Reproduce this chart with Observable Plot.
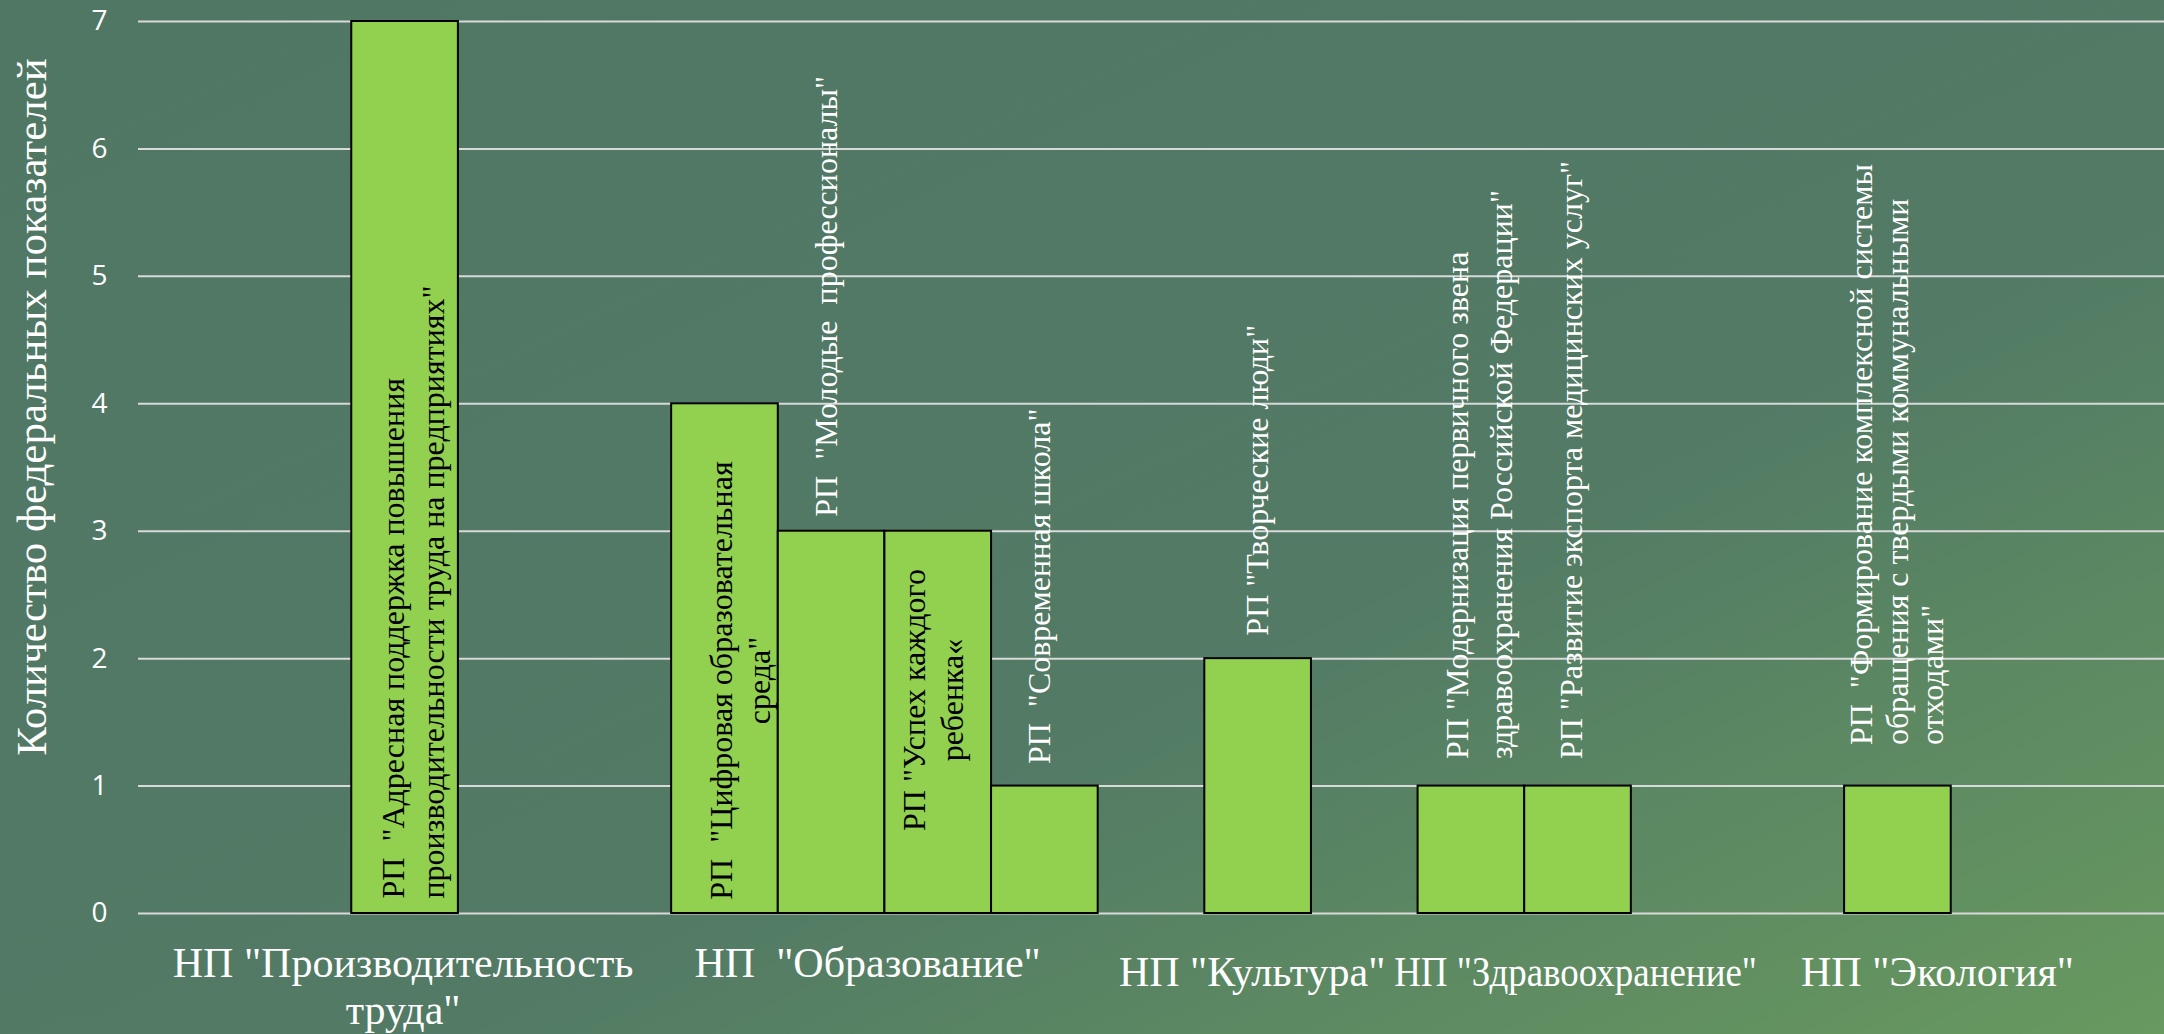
<!DOCTYPE html>
<html>
<head>
<meta charset="utf-8">
<script src="https://cdn.jsdelivr.net/npm/d3@7"></script>
<script src="https://cdn.jsdelivr.net/npm/@observablehq/plot@0.6"></script>
<style>
  html, body { margin: 0; padding: 0; width: 2164px; height: 1034px; overflow: hidden; }
  body { background: linear-gradient(to bottom right, #4f7764 0%, #527a65 60%, #68995f 100%); }
  #chart svg { display: block; background: transparent; }
  #chart svg .serif, #chart svg .serif text, #chart svg .serif tspan { font-family: "Liberation Serif", "DejaVu Serif", serif !important; }
  #chart svg .sans, #chart svg .sans text { font-family: "Open Sans", sans-serif !important; }
</style>
</head>
<body>
<div id="chart"></div>
<script>
// ---- data ----
const categories = [
  "НП \"Производительность\nтруда\"",
  "НП  \"Образование\"",
  "НП \"Культура\"",
  "НП \"Здравоохранение\"",
  "НП \"Экология\""
];
const projects = [
  "РП  \"Адресная поддержка повышения\nпроизводительности труда на предприятиях\"",
  "РП  \"Цифровая образовательная\nсреда\"",
  "РП  \"Молодые  профессионалы\"",
  "РП \"Успех каждого\nребенка«",
  "РП  \"Современная школа\"",
  "РП \"Творческие люди\"",
  "РП \"Модернизация первичного звена\nздравоохранения Российской Федерации\"",
  "РП \"Развитие экспорта медицинских услуг\"",
  "РП  \"Формирование комплексной системы\nобращения с твердыми коммунальными\nотходами\""
];
const projectCategory = [
  categories[0],
  categories[1], categories[1], categories[1], categories[1],
  categories[2],
  categories[3], categories[3],
  categories[4]
];
const values = [7, 4, 3, 3, 1, 2, 1, 1, 1];
const yTicks = [0, 1, 2, 3, 4, 5, 6, 7];
const yTitle = "Количество федеральных показателей";

// ---- layout (not data) ----
const gapsBefore = [2, 2, 1, 1, 2];
const gapsAfter = 2;
const slotOrder = [];
let g = 0;
categories.forEach((c, ci) => {
  for (let i = 0; i < gapsBefore[ci]; i++) slotOrder.push("gap" + (g++));
  projects.forEach((p, pi) => { if (projectCategory[pi] === c) slotOrder.push(p); });
});
for (let i = 0; i < gapsAfter; i++) slotOrder.push("gap" + (g++));

const rows = projects.map((p, i) => ({ project: p, category: projectCategory[i], value: values[i] }));

const labelLayout = [
  { inside: true,  base: "zero", anchor: "start",  dx: 6.5,  dy: -15,   lh: 1.25 },
  { inside: true,  base: "zero", anchor: "middle", dx: 13.5, dy: -233,  lh: 1.19 },
  { inside: false, base: "top",  anchor: "start",  dx: -7,   dy: -14.5, lh: 1.19 },
  { inside: true,  base: "zero", anchor: "middle", dx: -6,   dy: -213.5,lh: 1.19 },
  { inside: false, base: "top",  anchor: "start",  dx: -7,   dy: -22,   lh: 1.19 },
  { inside: false, base: "top",  anchor: "start",  dx: -2.5, dy: -23,   lh: 1.19 },
  { inside: false, base: "top",  anchor: "start",  dx: 4.5,  dy: -27,   lh: 1.39 },
  { inside: false, base: "top",  anchor: "start",  dx: -8.5, dy: -27,   lh: 1.19 },
  { inside: false, base: "top",  anchor: "start",  dx: -1.5, dy: -41,   lh: 1.1 }
];
const catLayout = [
  { anchor: 0, dx: -2,   dy: 31, squeeze: 1 },
  { anchor: 2, dx: 36,   dy: 31, squeeze: 1 },
  { anchor: 5, dx: -6,   dy: 40, squeeze: 1 },
  { anchor: 7, dx: -2.5, dy: 40, squeeze: 0.88 },
  { anchor: 8, dx: 39.5, dy: 40, squeeze: 1 }
];

const fixSpaces = s => s.replace(/  /g, " \u00a0");
const serif = "Liberation Serif";

const labelMarks = rows.map((r, i) => {
  const L = labelLayout[i];
  return Plot.text([r], {
    x: "project",
    y: d => L.base === "zero" ? 0 : d.value,
    text: d => fixSpaces(d.project),
    rotate: -90,
    textAnchor: L.anchor,
    lineAnchor: "middle",
    lineHeight: L.lh,
    dx: L.dx,
    dy: L.dy,
    fontSize: 32,
    fontFamily: serif,
    className: "serif",
    fill: L.inside ? "#000000" : "#ffffff"
  });
});

const catMarks = categories.map((c, ci) => {
  const C = catLayout[ci];
  return Plot.text([{ category: c, project: projects[C.anchor] }], {
    x: "project",
    y: () => 0,
    text: d => fixSpaces(d.category),
    textAnchor: "middle",
    lineAnchor: "top",
    lineHeight: 1.1,
    dx: C.dx,
    dy: C.dy,
    fontSize: 42,
    fontFamily: serif,
    className: "serif cat" + ci,
    fill: "#ffffff"
  });
});

const chart = Plot.plot({
  width: 2164,
  height: 1034,
  marginLeft: 138,
  marginRight: 0,
  marginTop: 21,
  marginBottom: 121,
  style: { background: "transparent", color: "#ffffff", overflow: "visible" },
  x: { type: "band", domain: slotOrder, padding: 0, round: false, axis: null },
  y: { domain: [0, 7], axis: null },
  marks: [
    Plot.ruleY(yTicks, { y: d => d, stroke: "#d9d9d9", strokeWidth: 2 }),
    Plot.barY(rows, { x: "project", y: "value", fill: "#92d050", stroke: "#000000", strokeWidth: 2, inset: 0 }),
    ...labelMarks,
    ...catMarks,
    Plot.axisY({
      ticks: yTicks,
      tickFormat: d3.format("d"),
      tickSize: 0,
      tickPadding: 31,
      fontSize: 28,
      fontFamily: "Open Sans",
      className: "sans",
      fill: "#ffffff",
      label: null
    }),
    Plot.text([yTitle], {
      text: d => d,
      frameAnchor: "left",
      rotate: -90,
      textAnchor: "middle",
      lineAnchor: "middle",
      dx: 32 - 138,
      dy: -60.5,
      fontSize: 43,
      fontFamily: serif,
      className: "serif",
      fill: "#ffffff"
    })
  ]
});

// horizontally condense category labels where the reference font is narrower
catLayout.forEach((C, ci) => {
  if (C.squeeze === 1) return;
  chart.querySelectorAll(".cat" + ci + " text").forEach(t => {
    let tr = t.getAttribute("transform") || "";
    const x = t.getAttribute("x");
    if (x != null && isFinite(+x)) {
      tr = `translate(${+x},0) ` + tr;
      t.removeAttribute("x");
    }
    t.setAttribute("transform", (tr + ` scale(${C.squeeze},1)`).trim());
  });
});

document.getElementById("chart").appendChild(chart);
</script>
</body>
</html>
